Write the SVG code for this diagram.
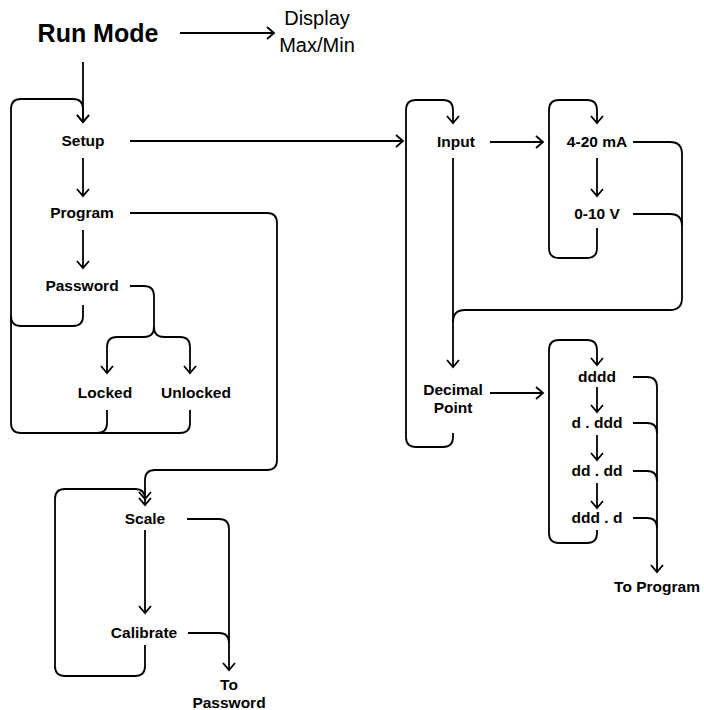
<svg xmlns="http://www.w3.org/2000/svg" width="704" height="710" viewBox="0 0 704 710">
<defs>
<marker id="ah" markerUnits="userSpaceOnUse" markerWidth="10" markerHeight="14" viewBox="0 0 10 14" refX="8" refY="7" orient="auto">
<path d="M1,1 L8,7 L1,13" fill="none" stroke="#000" stroke-width="1.8"/>
</marker>
</defs>
<style>
.l{font-family:"Liberation Sans",Arial,sans-serif;font-weight:bold;font-size:15.5px;fill:#000;text-anchor:middle}
.c{fill:none;stroke:#000;stroke-width:1.8}
.a{marker-end:url(#ah)}
</style>
<rect width="704" height="710" fill="#fff"/>
<g id="connectors">
<path class="c a" d="M180,33 H274"/>
<path class="c a" d="M83,62 V122"/>
<path class="c a" d="M83,305 V316 Q83,326 73,326 H21 Q11,326 11,316 V109 Q11,99 21,99 H73 Q83,99 83,109 V122"/>
<path class="c a" d="M130,141 H403"/>
<path class="c a" d="M83,158 V196"/>
<path class="c a" d="M130,213 H267 Q277,213 277,223 V460 Q277,470 267,470 H155 Q145,470 145,480 V505"/>
<path class="c a" d="M83,230 V268"/>
<path class="c a" d="M130,286 H144 Q154,286 154,296 V327 Q154,337 144,337 H117 Q107,337 107,347 V373"/>
<path class="c a" d="M154,327 Q154,337 164,337 H180 Q190,337 190,347 V373"/>
<path class="c" d="M107,410 V423 Q107,433 97,433 H21 Q11,433 11,423 V316"/>
<path class="c" d="M190,410 V423 Q190,433 180,433 H97"/>
<path class="c a" d="M453,433 V437 Q453,447 443,447 H416 Q406,447 406,437 V110 Q406,100 416,100 H443 Q453,100 453,110 V123"/>
<path class="c a" d="M490,142 H543"/>
<path class="c a" d="M453,158 V367"/>
<path class="c" d="M633,142 H670 Q682,142 682,154 V298 Q682,310 670,310 H465 Q453,310 453,322"/>
<path class="c" d="M633,214 H670 Q682,214 682,226"/>
<path class="c a" d="M597,228 V248 Q597,258 587,258 H559 Q549,258 549,248 V110 Q549,100 559,100 H587 Q597,100 597,110 V123"/>
<path class="c a" d="M597,158 V196"/>
<path class="c a" d="M490,393 H543"/>
<path class="c a" d="M597,530 V533 Q597,543 587,543 H559 Q549,543 549,533 V350 Q549,340 559,340 H587 Q597,340 597,350 V365"/>
<path class="c a" d="M597,387 V412"/>
<path class="c a" d="M597,435 V460"/>
<path class="c a" d="M597,483 V508"/>
<path class="c a" d="M633,377 H647 Q657,377 657,387 V572"/>
<path class="c" d="M633,423 H647 Q657,423 657,433"/>
<path class="c" d="M633,471 H647 Q657,471 657,481"/>
<path class="c" d="M633,518 H647 Q657,518 657,528"/>
<path class="c a" d="M145,645 V666 Q145,676 135,676 H65 Q55,676 55,666 V499 Q55,489 65,489 H135 Q145,489 145,499"/>
<path class="c a" d="M145,530 V613"/>
<path class="c a" d="M187,519 H219 Q229,519 229,529 V670"/>
<path class="c" d="M188,633 H219 Q229,633 229,643"/>
</g>
<g id="run-mode"><text class="l" x="98" y="42" style="font-size:25px">Run Mode</text></g>
<g id="display"><text class="l" x="317" y="25" style="font-size:20px;font-weight:normal">Display</text><text class="l" x="317" y="52" style="font-size:20px;font-weight:normal">Max/Min</text></g>
<g id="setup"><text class="l" x="83" y="146">Setup</text></g>
<g id="program"><text class="l" x="82" y="218">Program</text></g>
<g id="password"><text class="l" x="82" y="291">Password</text></g>
<g id="locked"><text class="l" x="105" y="398">Locked</text></g>
<g id="unlocked"><text class="l" x="196" y="398">Unlocked</text></g>
<g id="input"><text class="l" x="456" y="147">Input</text></g>
<g id="ma"><text class="l" x="597" y="147">4-20 mA</text></g>
<g id="volt"><text class="l" x="597" y="219">0-10 V</text></g>
<g id="decimal-point"><text class="l" x="453" y="395">Decimal</text><text class="l" x="453" y="413">Point</text></g>
<g id="d0"><text class="l" x="597" y="382">dddd</text></g>
<g id="d1"><text class="l" x="597" y="428">d . ddd</text></g>
<g id="d2"><text class="l" x="597" y="476">dd . dd</text></g>
<g id="d3"><text class="l" x="597" y="523">ddd . d</text></g>
<g id="to-program"><text class="l" x="657" y="592">To Program</text></g>
<g id="scale"><text class="l" x="145" y="524">Scale</text></g>
<g id="calibrate"><text class="l" x="144" y="638">Calibrate</text></g>
<g id="to-password"><text class="l" x="229" y="690">To</text><text class="l" x="229" y="708">Password</text></g>
</svg>
